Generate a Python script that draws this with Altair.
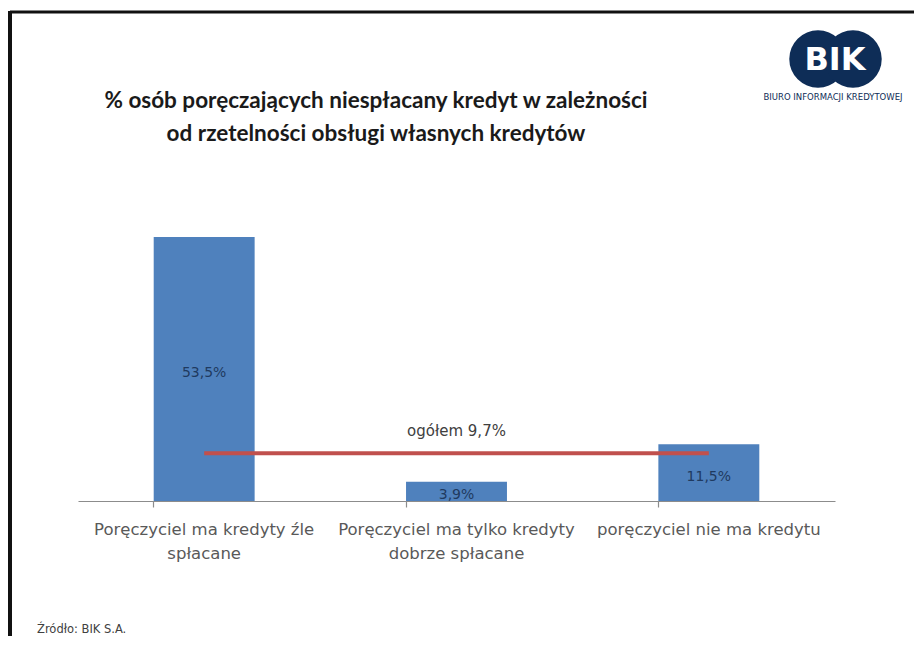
import altair as alt
import pandas as pd

# ---- data ----
categories = [
    "Poręczyciel ma kredyty źle\nspłacane",
    "Poręczyciel ma tylko kredyty\ndobrze spłacane",
    "poręczyciel nie ma kredytu",
]
values = [53.5, 3.9, 11.5]
overall_value = 9.7
overall_label = "ogółem  9,7%"
title_lines = [
    "% osób poręczających niespłacany kredyt w zależności",
    "od rzetelności obsługi własnych kredytów",
]
source_text = "Źródło: BIK S.A."
logo_text = "BIK"
logo_sub = "BIURO INFORMACJI KREDYTOWEJ"

BAR = "#4F81BD"
RED = "#C0504D"
NAVY = "#0E2D57"
FONT = "DejaVu Sans"

df = pd.DataFrame({"cat": categories, "val": values})
df["lbl"] = [f"{v:.1f}".replace(".", ",") + "%" for v in values]
df["mid"] = df["val"] / 2

line_df = pd.DataFrame({"start": [categories[0]], "end": [categories[-1]],
                        "y": [overall_value], "mid": [categories[1]],
                        "txt": [overall_label]})

W, H = 757, 296

xscale = alt.Scale(domain=categories, paddingInner=0.6, paddingOuter=0.3)
yscale = alt.Scale(domain=[0, 60])

x_enc = alt.X("cat:N", sort=None, scale=xscale,
              axis=alt.Axis(title=None, labelAngle=0, labelExpr="split(datum.label, '\\n')",
                            labelFontSize=16.5, labelColor="#595959", labelFont=FONT,
                            labelLineHeight=24, labelPadding=14, labelBaseline="top",
                            labelLimit=400,
                            domainColor="#8C8C8C", domainWidth=1.2, tickColor="#8C8C8C",
                            tickSize=6, tickWidth=1.2, bandPosition=0, labelBound=False))

bars = alt.Chart(df).mark_bar(color=BAR).encode(
    x=x_enc,
    y=alt.Y("val:Q", scale=yscale, axis=None),
)

bar_labels = alt.Chart(df).mark_text(font=FONT, fontSize=14, color="#1F3A60",
                                     baseline="middle", dy=4).encode(
    x=alt.X("cat:N", sort=None, scale=xscale),
    y=alt.Y("mid:Q", scale=yscale),
    text="lbl:N",
)

red_line = alt.Chart(line_df).mark_rule(color=RED, strokeWidth=4).encode(
    x=alt.X("start:N", scale=xscale),
    x2="end:N",
    y=alt.Y("y:Q", scale=yscale),
)

red_label = alt.Chart(line_df).mark_text(font=FONT, fontSize=15, color="#404040",
                                         dy=-22).encode(
    x=alt.X("mid:N", scale=xscale),
    y=alt.Y("y:Q", scale=yscale),
    text="txt:N",
)

# decorations: slide border, title, logo, source
deco = pd.DataFrame({"k": [0]})
border_top = alt.Chart(deco).mark_rule(color="#111111", strokeWidth=3).encode(
    x=alt.value(-68), x2=alt.value(840), y=alt.value(-193))
border_left = alt.Chart(deco).mark_rule(color="#111111", strokeWidth=4).encode(
    x=alt.value(-68), y=alt.value(-194), y2=alt.value(440))

title1 = alt.Chart(deco).mark_text(text=title_lines[0], font="Lato", fontWeight="bold",
                                   fontSize=22.5, color="#1A1A1A", baseline="middle").encode(
    x=alt.value(298), y=alt.value(-104))
title2 = alt.Chart(deco).mark_text(text=title_lines[1], font="Lato", fontWeight="bold",
                                   fontSize=22.5, color="#1A1A1A", baseline="middle").encode(
    x=alt.value(298), y=alt.value(-71))

logo_c1 = alt.Chart(deco).mark_point(filled=True, shape="circle", color=NAVY,
                                     opacity=1, size=3300).encode(
    x=alt.value(740), y=alt.value(-146))
logo_c2 = alt.Chart(deco).mark_point(filled=True, shape="circle", color=NAVY,
                                     opacity=1, size=3300).encode(
    x=alt.value(775), y=alt.value(-146))
logo_t = alt.Chart(deco).mark_text(text=logo_text, font="DejaVu Sans", fontWeight="bold",
                                   fontSize=32, color="white", baseline="middle").encode(
    x=alt.value(757), y=alt.value(-145))
logo_s = alt.Chart(deco).mark_text(text=logo_sub, font="DejaVu Sans",
                                   fontSize=8.5, color=NAVY, baseline="middle").encode(
    x=alt.value(755), y=alt.value(-108))
source = alt.Chart(deco).mark_text(text=source_text, font=FONT, fontSize=11.5,
                                   color="#404040", align="left",
                                   baseline="middle").encode(
    x=alt.value(-41), y=alt.value(425))

chart = alt.layer(
    bars, bar_labels, red_line, red_label,
    border_top, border_left, title1, title2, logo_c1, logo_c2, logo_t, logo_s, source,
).properties(
    width=W, height=H,
    padding={"left": 70, "top": 197, "right": 79, "bottom": 135},
    autosize=alt.AutoSizeParams(type="none"),
    background="white",
).configure_view(stroke=None)

chart.save("out.html", embed_options={"renderer": "svg", "actions": False})
